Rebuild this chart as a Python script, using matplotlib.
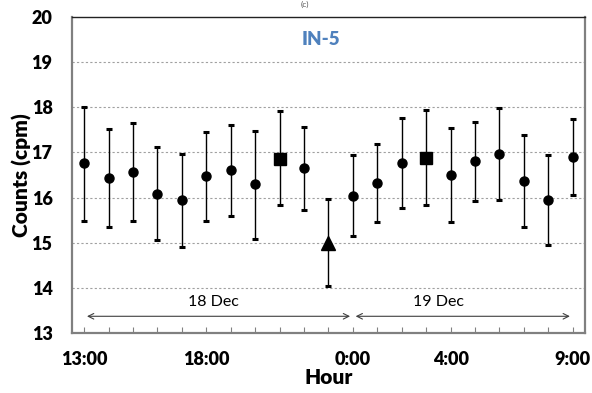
import matplotlib
matplotlib.use("Agg")  # no display

import numpy as np
import matplotlib.pyplot as plt

# Data (IN-5 panel)
hours = ["13:00", "14:00", "15:00", "16:00", "17:00", "18:00", "19:00",
         "20:00", "21:00", "22:00", "23:00", "0:00", "1:00", "2:00",
         "3:00", "4:00", "5:00", "6:00", "7:00", "8:00", "9:00"]
counts = [16.76, 16.43, 16.57, 16.08, 15.94, 16.48, 16.60, 16.29, 16.86,
          16.66, 14.99, 16.04, 16.32, 16.77, 16.88, 16.49, 16.80, 16.97,
          16.37, 15.95, 16.90]
upper = [18.01, 17.52, 17.66, 17.12, 16.96, 17.45, 17.61, 17.48, 17.92,
         17.57, 15.97, 16.95, 17.18, 17.77, 17.95, 17.54, 17.67, 17.98,
         17.39, 16.95, 17.75]
lower = [15.49, 15.34, 15.47, 15.06, 14.91, 15.49, 15.60, 15.09, 15.83,
         15.73, 14.03, 15.15, 15.46, 15.78, 15.83, 15.45, 15.92, 15.95,
         15.35, 14.96, 16.06]
markers = ["o"] * 21
markers[8] = "s"
markers[14] = "s"
markers[10] = "^"
shown_labels = {"13:00", "18:00", "0:00", "4:00", "9:00"}

FONT = "Lato"
GRAY = "#808080"


def main():
    x = np.arange(len(hours))
    y = np.array(counts)
    yerr = np.vstack([y - np.array(lower), np.array(upper) - y])

    fig = plt.figure(figsize=(5.92, 3.93), dpi=100)
    ax = fig.add_axes([0.1216, 0.1527, 0.8664, 0.804])

    # dotted grid lines
    for v in range(14, 20):
        ax.axhline(v, color="#a0a0a0", lw=0.8, ls=(0, (2, 2)), zorder=0)

    ax.errorbar(x, y, yerr=yerr, fmt="none", ecolor="black", elinewidth=1.0,
                capsize=2.2, capthick=2.2, zorder=2)
    sizes = {"o": 6.5, "s": 8, "^": 9.5}
    for xi, yi, m in zip(x, y, markers):
        ax.plot(xi, yi, marker=m, color="black", ms=sizes[m], ls="none", zorder=3)

    ax.set_xlim(-0.5, 20.5)
    ax.set_ylim(13, 20)
    ax.set_yticks(range(13, 21))
    ax.set_xticks(x)
    ax.set_xticklabels([h if h in shown_labels else "" for h in hours])
    ax.tick_params(axis="x", direction="in", length=4, color=GRAY, pad=13)
    ax.tick_params(axis="y", length=0, pad=14)
    for lab in ax.get_xticklabels() + ax.get_yticklabels():
        lab.set_fontfamily(FONT)
        lab.set_fontweight("heavy")
        lab.set_fontsize(13)

    for side in ("left", "bottom", "right"):
        ax.spines[side].set_color(GRAY)
        ax.spines[side].set_linewidth(1.6)
    ax.spines["top"].set_color("#222222")
    ax.spines["top"].set_linewidth(1.0)

    ax.set_ylabel("Counts (cpm)", fontfamily=FONT, fontweight="heavy",
                  fontsize=15, labelpad=0)
    ax.set_xlabel("Hour", fontfamily=FONT, fontweight="heavy",
                  fontsize=15, labelpad=0)

    # date spans
    arrow = dict(arrowstyle="<->", color="#404040", lw=0.8)
    ax.annotate("", xy=(0, 13.37), xytext=(11, 13.37), arrowprops=arrow)
    ax.annotate("", xy=(11, 13.37), xytext=(20, 13.37), arrowprops=arrow)
    ax.text(5.3, 13.68, "18 Dec", ha="center", va="center",
            fontfamily=FONT, fontsize=11.5)
    ax.text(14.5, 13.68, "19 Dec", ha="center", va="center",
            fontfamily=FONT, fontsize=11.5)

    ax.text(9.7, 19.5, "IN-5", ha="center", va="center", color="#4F81BD",
            fontfamily=FONT, fontweight="heavy", fontsize=13.5)

    # panel tag, mostly off the top edge in the reference; kept small here
    fig.text(0.515, 0.998, "(c)", ha="center", va="top",
             fontfamily=FONT, fontsize=6, color="#555555")

    fig.savefig("out.png", dpi=100)
    plt.close(fig)


if __name__ == "__main__":
    main()
